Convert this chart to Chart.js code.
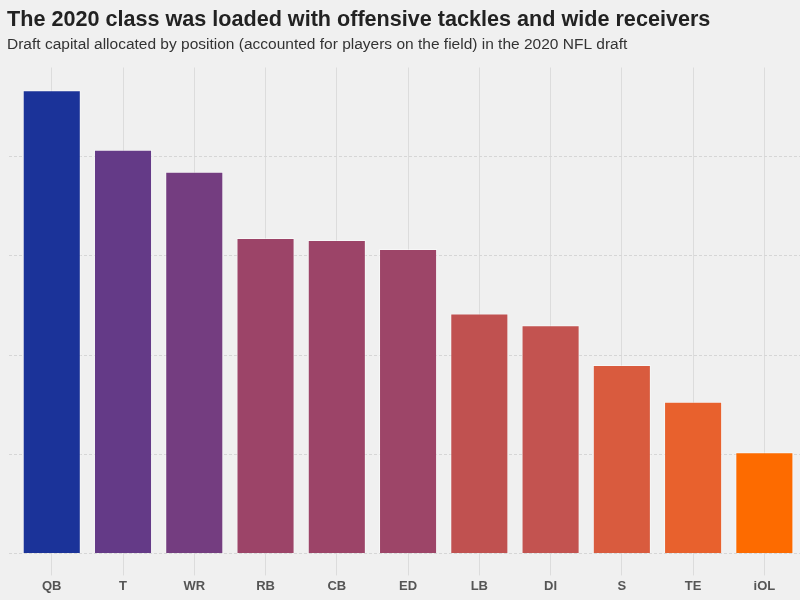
<!DOCTYPE html>
<html>
<head>
<meta charset="utf-8">
<script src="https://cdn.jsdelivr.net/npm/chart.js@4/dist/chart.umd.min.js"></script>
<style>
  html, body { margin: 0; padding: 0; background: #f0f0f0; overflow: hidden; }
  #wrap { width: 800px; height: 600px; }
</style>
</head>
<body>
<div id="wrap"><canvas id="c" width="800" height="600"></canvas></div>
<script>
const positions = ["QB", "T", "WR", "RB", "CB", "ED", "LB", "DI", "S", "TE", "iOL"];
const draftCapital = [233.5, 203.5, 192.5, 159, 158, 153.5, 121, 115, 95, 76.5, 51];
const barColors = ["#1b3399", "#643a87", "#743d80", "#9c4468", "#9c4468", "#9d4568",
                   "#c05150", "#c35350", "#d95b3e", "#e8612d", "#fd6b00"];
const yTicks = [0, 50, 100, 150, 200];

const points = positions.map((p, i) => ({ x: i, y: draftCapital[i] }));

new Chart(document.getElementById('c'), {
  type: 'bar',
  data: {
    datasets: [{
      data: points,
      backgroundColor: barColors,
      borderColor: 'rgba(255,255,255,0.45)',
      borderWidth: 1,
      barPercentage: 0.815,
      categoryPercentage: 1.0
    }]
  },
  options: {
    responsive: false,
    animation: false,
    layout: { padding: { left: 7, right: 0, top: 0, bottom: 3 } },
    plugins: {
      legend: { display: false },
      tooltip: { enabled: false },
      title: {
        display: true,
        text: 'The 2020 class was loaded with offensive tackles and wide receivers',
        align: 'start',
        color: '#222222',
        font: { family: 'Liberation Sans', size: 21.6, weight: 'bold' },
        padding: { top: 7, bottom: 0 }
      },
      subtitle: {
        display: true,
        text: 'Draft capital allocated by position (accounted for players on the field) in the 2020 NFL draft',
        align: 'start',
        color: '#333333',
        font: { family: 'Liberation Sans', size: 15.5 },
        padding: { top: 2, bottom: 14 }
      }
    },
    scales: {
      x: {
        type: 'linear',
        offset: false,
        min: -0.6,
        max: 10.5,
        grid: { offset: false, color: '#dcdcdc', lineWidth: 1, tickLength: 22, drawTicks: true },
        border: { display: false },
        ticks: {
          stepSize: 1,
          includeBounds: false,
          autoSkip: false,
          maxRotation: 0,
          padding: 3,
          color: '#555555',
          font: { family: 'Liberation Sans', size: 13, weight: 'bold' },
          callback: (v) => Number.isInteger(v) && positions[v] !== undefined ? positions[v] : ''
        }
      },
      y: {
        min: 0,
        max: 245,
        afterBuildTicks: (s) => { s.ticks = yTicks.map(v => ({ value: v })); },
        afterFit: (s) => { s.width = 2; },
        grid: { color: '#d6d6d6', lineWidth: 1, drawTicks: false },
        border: { display: false, dash: [3, 2] },
        ticks: { display: false }
      }
    }
  }
});
</script>
</body>
</html>
